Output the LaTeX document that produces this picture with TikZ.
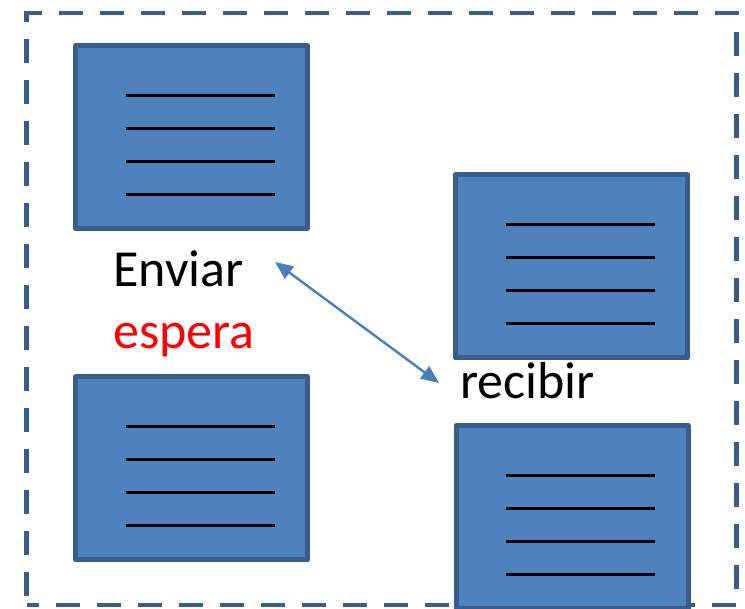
\documentclass[tikz,border=0pt]{standalone}
\usepackage{fontspec}
\setmainfont{Carlito}
\usetikzlibrary{arrows.meta}
\definecolor{boxedge}{HTML}{385D8A}
\definecolor{boxfill}{HTML}{4F81BD}
\definecolor{arrowblue}{HTML}{4A7EBB}
\definecolor{pureRed}{HTML}{FF0000}
\tikzset{
  docbox/.style={draw=boxedge, fill=boxfill, line width=5pt, line join=round,
    minimum width=232pt, minimum height=183pt, inner sep=0pt, outer sep=0pt},
  outerframe/.style={draw=boxedge, line width=4.5pt, dash pattern=on 24pt off 17pt,
    dash phase=12pt, minimum width=710pt, minimum height=592pt, inner sep=0pt},
  textline/.style={black, line width=3pt},
  label/.style={inner sep=0pt, anchor=base west, font=\fontsize{52}{60}\selectfont},
  link/.style={arrowblue, line width=2.4pt,
    {Triangle[length=18pt,width=15pt]}-{Triangle[length=18pt,width=15pt]}}
}
\begin{document}
\begin{tikzpicture}[x=1pt, y=1pt]
  \useasboundingbox (0,0) rectangle (745,-609);

  % dashed outer frame
  \node[outerframe] (frame) at (381.6,-308.9) {};

  % four document boxes
  \node[docbox] (b1) at (191.5,-137) {};
  \node[docbox] (b2) at (571.5,-266.5) {};
  \node[docbox] (b3) at (191.5,-468.5) {};
  \node[docbox] (b4) at (572,-517) {};

  % text lines inside each box
  \foreach \b in {b1,b2,b3,b4}
    \foreach \dy in {41.5,8.5,-24.5,-57.5}
      \draw[textline] ([shift={(-66,\dy)}]\b.center) -- ++(149,0);

  % labels
  \node[label] (enviar) at (113,-287) {Enviar};
  \node[label, text=pureRed] (espera) at (113,-349) {espera};
  \node[label] (recibir) at (460,-399) {recibir};

  % two-way arrow between the labels
  \coordinate (sendEnd) at (275,-262);
  \coordinate (recvEnd) at (439,-383);
  \draw[link] (sendEnd) -- (recvEnd);
\end{tikzpicture}
\end{document}
